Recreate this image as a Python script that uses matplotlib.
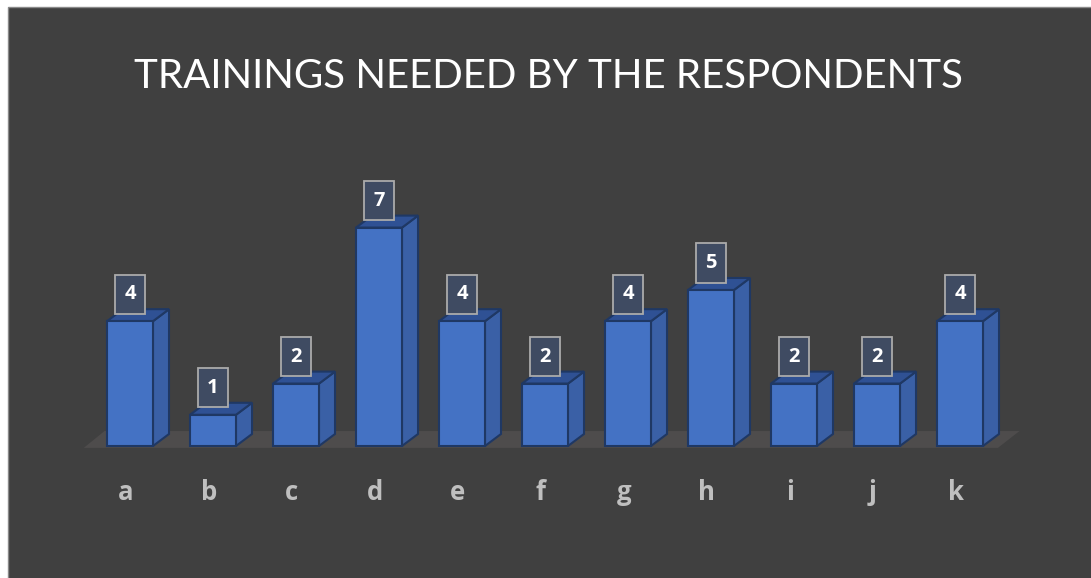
import matplotlib
matplotlib.use('Agg')
import matplotlib.pyplot as plt
from matplotlib.patches import Rectangle, Polygon
from matplotlib.transforms import Affine2D, ScaledTranslation, offset_copy

categories = ['a', 'b', 'c', 'd', 'e', 'f', 'g', 'h', 'i', 'j', 'k']
counts = [4, 1, 2, 7, 4, 2, 4, 5, 2, 2, 4]

W, H = 1091, 578
fig = plt.figure(figsize=(W / 100, H / 100), dpi=100)
fig.patch.set_facecolor('white')
fig.patches.append(Rectangle((8 / W, -0.01), 1, (H - 7) / H + 0.01,
                             transform=fig.transFigure, facecolor='#404040',
                             edgecolor='#8a8a8a', lw=1, zorder=-5))

ax = fig.add_axes([47 / W, (H - 477.2) / H, 996 / W, 280.8 / H])
ax.set_zorder(2)
ax.set_xlim(-1, 11)
ax.set_ylim(-1, 8)
ax.patch.set_visible(False)
for s in ax.spines.values():
    s.set_visible(False)

width = 0.554
dx, dy = 0.193, 0.385
front, side, top, edge = '#4472c4', '#3a60a6', '#2f5194', '#1f3864'

# floor
n = len(categories)
fx0 = -width / 2 - 0.28
fx1 = n - 1 + width / 2 + 0.18
floor = Polygon([(fx0, -0.06), (fx1, -0.06), (fx1 + 0.26, 0.48), (fx0 + 0.25, 0.48)],
                closed=True, facecolor='#4e4c4c', edgecolor='none', zorder=1)
ax.add_patch(floor)

for i, v in enumerate(counts):
    x0 = i - width / 2
    x1 = i + width / 2
    ax.add_patch(Polygon([(x1, 0), (x1 + dx, dy), (x1 + dx, v + dy), (x1, v)],
                         closed=True, facecolor=side, edgecolor=edge, lw=1.5, zorder=2))
    ax.add_patch(Polygon([(x0, v), (x0 + dx, v + dy), (x1 + dx, v + dy), (x1, v)],
                         closed=True, facecolor=top, edgecolor=edge, lw=1.5, zorder=2))
ax.bar(range(n), counts, width=width, color=front, edgecolor=edge, lw=1.5, zorder=3)

# data label boxes, sized in points (72 pt = 100 px here)
pt = Affine2D().scale(1 / 72) + fig.dpi_scale_trans
for i, v in enumerate(counts):
    anchor = ScaledTranslation(i, v, ax.transData)
    ax.add_patch(Rectangle((-10.8, 5.4), 21.6, 28.1, transform=pt + anchor,
                           facecolor='#3f4b62', edgecolor='#ababab', lw=1.3,
                           zorder=5, clip_on=False))
    ax.annotate(str(v), (i, v), xytext=(0, 19.3), textcoords='offset points',
                ha='center', va='center', color='white', fontsize=14.5,
                fontweight='bold', family='Open Sans', zorder=6)

ax.set_xticks(range(n))
ax.set_xticklabels(categories, color='#bfbfbf', fontsize=18.5, fontweight='bold',
                   family='Open Sans')
ax.tick_params(axis='x', length=0, pad=1)
for lab in ax.get_xticklabels():
    lab.set_transform(offset_copy(lab.get_transform(), fig=fig, x=-3, y=0,
                                  units='points'))
ax.set_yticks([])

fig.text(548 / W, (H - 76) / H, 'TRAININGS NEEDED BY THE RESPONDENTS',
         ha='center', va='center', color='white', fontsize=29, family='Lato',
         fontweight='normal')

fig.savefig('out.png', dpi=100, facecolor=fig.get_facecolor())
